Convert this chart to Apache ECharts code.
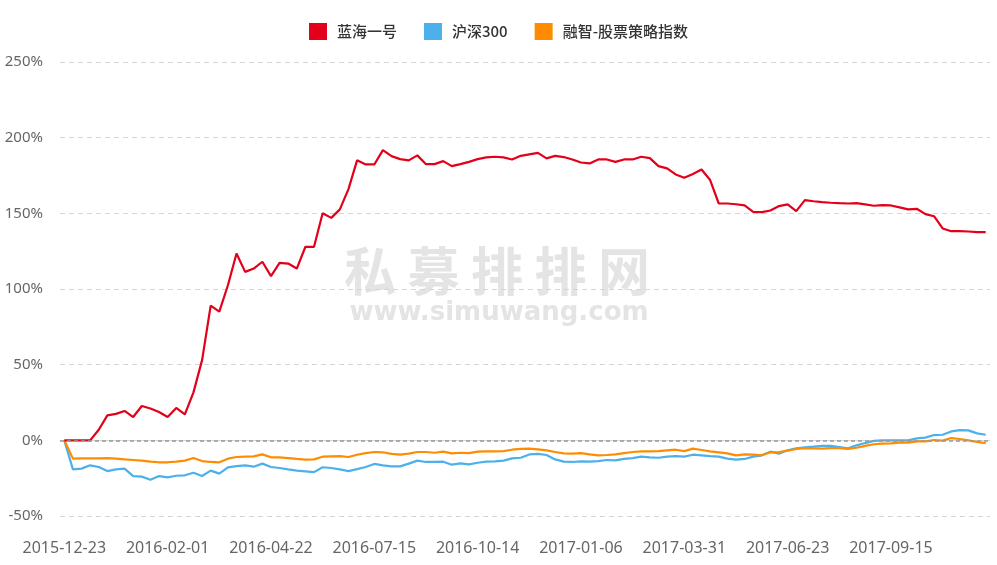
<!DOCTYPE html>
<html>
<head>
<meta charset="utf-8">
<title>蓝海一号 业绩走势</title>
<script src="https://cdn.jsdelivr.net/npm/echarts@6/dist/echarts.min.js"></script>
<style>
  html, body { margin: 0; padding: 0; background: #fff; }
  #main { width: 997px; height: 565px; }
</style>
</head>
<body>
<div id="main"></div>
<script>
// 日期（周度）
var dates = [
  '2015-12-23', '2015-12-25', '2015-12-28', '2015-12-31', '2016-01-04', '2016-01-08',
  '2016-01-11', '2016-01-15', '2016-01-18', '2016-01-22', '2016-01-25', '2016-01-29',
  '2016-02-01', '2016-02-05', '2016-02-15', '2016-02-19', '2016-02-26', '2016-03-04',
  '2016-03-11', '2016-03-18', '2016-03-25', '2016-04-01', '2016-04-08', '2016-04-15',
  '2016-04-22', '2016-04-29', '2016-05-06', '2016-05-13', '2016-05-20', '2016-05-27',
  '2016-06-03', '2016-06-08', '2016-06-17', '2016-06-24', '2016-07-01', '2016-07-08',
  '2016-07-15', '2016-07-22', '2016-07-29', '2016-08-05', '2016-08-12', '2016-08-19',
  '2016-08-26', '2016-09-02', '2016-09-09', '2016-09-14', '2016-09-23', '2016-09-30',
  '2016-10-14', '2016-10-21', '2016-10-28', '2016-11-04', '2016-11-11', '2016-11-18',
  '2016-11-25', '2016-12-02', '2016-12-09', '2016-12-16', '2016-12-23', '2016-12-30',
  '2017-01-06', '2017-01-13', '2017-01-20', '2017-01-26', '2017-02-03', '2017-02-10',
  '2017-02-17', '2017-02-24', '2017-03-03', '2017-03-10', '2017-03-17', '2017-03-24',
  '2017-03-31', '2017-04-07', '2017-04-14', '2017-04-21', '2017-04-28', '2017-05-05',
  '2017-05-12', '2017-05-19', '2017-05-26', '2017-06-02', '2017-06-09', '2017-06-16',
  '2017-06-23', '2017-06-30', '2017-07-07', '2017-07-14', '2017-07-21', '2017-07-28',
  '2017-08-04', '2017-08-11', '2017-08-18', '2017-08-25', '2017-09-01', '2017-09-08',
  '2017-09-15', '2017-09-22', '2017-09-29', '2017-10-13', '2017-10-20', '2017-10-27',
  '2017-11-03', '2017-11-10', '2017-11-17', '2017-11-24', '2017-12-01', '2017-12-08'
]

// 蓝海一号 累计收益(%)
var lanhai = [
  0, 0, 0, 0, 7, 16.5, 17.5, 19.4, 15.4, 22.7, 21, 18.7,
  15.4, 21.4, 17.2, 31.7, 53, 89, 85, 102.5, 123.5, 111.3, 113.5, 118,
  108.5, 117.3, 116.8, 113.5, 127.9, 127.9, 150, 147, 152.6, 166, 185, 182.3,
  182.3, 191.8, 187.8, 185.8, 185, 188.3, 182.5, 182.5, 184.5, 181.2, 182.5, 184,
  185.8, 187, 187.4, 187, 185.6, 188, 189, 190, 186.3, 188, 187.2, 185.6,
  183.6, 183, 185.6, 185.6, 184, 185.6, 185.6, 187.4, 186.5, 181.2, 179.7, 175.7,
  173.5, 176, 179, 172, 156.5, 156.5, 156, 155.2, 151, 150.8, 151.9, 154.8,
  155.9, 151.5, 158.7, 158, 157.4, 157, 156.7, 156.5, 156.7, 155.9, 155, 155.4,
  155.2, 153.9, 152.6, 153, 149.5, 148.1, 140, 138.2, 138.2, 138, 137.6, 137.6
]

// 沪深300 累计收益(%)
var hs300 = [
  0, -19.2, -18.7, -16.5, -17.6, -20.3, -19.2, -18.7, -23.6, -24, -26, -23.6,
  -24.5, -23.4, -23.1, -21.4, -23.6, -20, -22, -17.9, -17, -16.5, -17.4, -15.4,
  -17.6, -18.3, -19.2, -20, -20.5, -21, -17.8, -18.3, -19.2, -20.3, -19, -17.6,
  -15.6, -16.5, -17.2, -17.2, -15.4, -13.4, -14.3, -14.3, -14.1, -16.1, -15.2, -15.9,
  -14.8, -14.1, -13.9, -13.4, -11.9, -11.5, -9.3, -9.0, -9.7, -12.6, -14.1, -14.3,
  -13.9, -14.1, -13.7, -13, -13.2, -12.3, -11.7, -10.8, -11.2, -11.5, -10.8, -10.4,
  -10.8, -9.5, -9.9, -10.4, -10.8, -12.1, -12.8, -12.3, -10.8, -9.9, -7.5, -8.8,
  -6.6, -5.3, -4.6, -4.2, -3.7, -3.7, -4.4, -5.3, -3.3, -1.8, -0.4, 0,
  0, 0, 0, 1.3, 1.8, 3.5, 3.7, 5.9, 6.8, 6.6, 4.6, 3.7
]

// 融智-股票策略指数 累计收益(%)
var rongzhi = [
  0, -12.1, -11.9, -11.9, -11.9, -11.8, -12.1, -12.6, -13, -13.4, -14.1, -14.5,
  -14.5, -14.1, -13.4, -11.7, -13.7, -14.3, -14.5, -12.1, -11, -10.8, -10.6, -9.3,
  -11.2, -11.2, -11.7, -12.3, -12.8, -12.6, -10.8, -10.6, -10.4, -11, -9.5, -8.4,
  -7.7, -7.9, -9.0, -9.5, -8.8, -7.7, -7.7, -8.2, -7.5, -8.6, -8.2, -8.4,
  -7.5, -7.3, -7.3, -7.1, -6.2, -5.7, -5.5, -6.0, -6.6, -7.7, -8.6, -8.8,
  -8.4, -9.3, -9.9, -9.7, -9.3, -8.4, -7.7, -7.3, -7.3, -7.1, -6.6, -6.2,
  -7.1, -5.5, -6.4, -7.3, -7.9, -8.6, -9.9, -9.3, -9.5, -9.9, -7.9, -7.7,
  -6.8, -5.7, -5.1, -5.3, -5.5, -5.1, -5.1, -5.7, -4.9, -3.7, -2.6, -2.2,
  -2.0, -1.5, -1.5, -0.7, -0.7, 0.2, -0.2, 1.5, 0.9, 0, -1.1, -1.8
]

var seriesNames = ['蓝海一号', '沪深300', '融智-股票策略指数']
var seriesColors = ['#e2001a', '#4cb1ea', '#ff8c00']

var myChart = echarts.init(document.getElementById('main'))

// 水印文字，逐字摆放
var markChars = '私募排排网'.split('')
var watermark = markChars.map(function (ch, i) {
  return {
    type: 'text',
    z: -10,
    silent: true,
    x: 370 + i * 63.5,
    y: 271,
    style: {
      text: ch,
      fill: '#e4e4e4',
      font: 'bold 52px "Noto Sans CJK SC"',
      align: 'center',
      verticalAlign: 'middle'
    }
  }
})
watermark.push({
  type: 'text',
  z: -10,
  silent: true,
  x: 499,
  y: 313,
  style: {
    text: 'www.simuwang.com',
    fill: '#e4e4e4',
    font: 'bold 26px "DejaVu Sans"',
    align: 'center',
    verticalAlign: 'middle'
  }
})

var option = {
  color: seriesColors,
  animation: false,
  textStyle: { fontFamily: '"Noto Sans", "Noto Sans CJK SC", sans-serif' },
  legend: {
    top: 18,
    left: 'center',
    icon: 'rect',
    itemWidth: 18,
    itemHeight: 17,
    itemGap: 27,
    textStyle: {
      fontSize: 15,
      color: '#333',
      fontWeight: 500,
      fontFamily: '"Noto Sans CJK SC", sans-serif',
      padding: [0, 0, 0, 5]
    },
    data: seriesNames
  },
  grid: {
    left: 60,
    right: 7,
    top: 62,
    bottom: 49,
    containLabel: false,
    outerBoundsMode: 'none'
  },
  graphic: watermark,
  xAxis: {
    type: 'category',
    data: dates,
    boundaryGap: true,
    axisTick: { show: false },
    axisLine: { lineStyle: { color: '#d6d6d6', width: 1 } },
    axisLabel: {
      interval: 11,
      color: '#666',
      fontSize: 16,
      margin: 24
    },
    splitLine: { show: false }
  },
  yAxis: {
    type: 'value',
    min: -50,
    max: 250,
    interval: 50,
    axisLine: { show: false },
    axisTick: { show: false },
    axisLabel: {
      formatter: '{value}%',
      color: '#666',
      fontSize: 15,
      margin: 17
    },
    splitLine: {
      lineStyle: { color: '#d6d6d6', type: [5, 4] }
    }
  },
  series: [
    {
      name: seriesNames[0],
      type: 'line',
      data: lanhai,
      showSymbol: false,
      symbol: 'none',
      z: 4,
      lineStyle: { width: 2.2, color: seriesColors[0] },
      markLine: {
        silent: true,
        symbol: 'none',
        label: { show: false },
        lineStyle: { color: '#999', type: [4, 3], width: 1.5 },
        data: [{ yAxis: 0 }]
      }
    },
    {
      name: seriesNames[1],
      type: 'line',
      data: hs300,
      showSymbol: false,
      symbol: 'none',
      z: 2,
      lineStyle: { width: 2.2, color: seriesColors[1] }
    },
    {
      name: seriesNames[2],
      type: 'line',
      data: rongzhi,
      showSymbol: false,
      symbol: 'none',
      z: 3,
      lineStyle: { width: 2.2, color: seriesColors[2] }
    }
  ]
}

myChart.setOption(option)
</script>
</body>
</html>
